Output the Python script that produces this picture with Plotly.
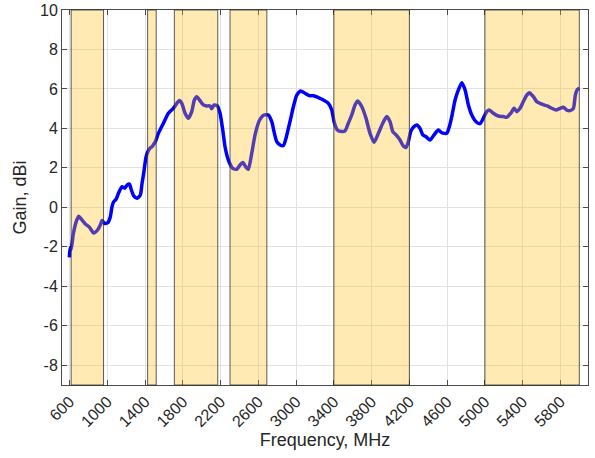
import plotly.graph_objects as go

freq_mhz = [598, 606, 616, 640, 669, 697, 725, 767, 810, 856, 891, 926, 944, 969, 1005, 1032, 1050, 1068, 1093, 1121,
            1156, 1185, 1209, 1234, 1255, 1280, 1315, 1350, 1368, 1386, 1410, 1432, 1453, 1474, 1509, 1541, 1594, 1647,
            1700, 1736, 1763, 1789, 1824, 1858, 1894, 1922, 1947, 1982, 2017, 2053, 2088, 2106, 2131, 2166, 2194, 2223,
            2247, 2282, 2329, 2371, 2406, 2435, 2470, 2494, 2530, 2565, 2611, 2660, 2706, 2742, 2766, 2795, 2830, 2865,
            2893, 2918, 2943, 2971, 3007, 3049, 3095, 3140, 3183, 3236, 3289, 3342, 3378, 3402, 3437, 3484, 3518, 3553,
            3589, 3624, 3653, 3696, 3741, 3783, 3826, 3871, 3918, 3960, 3995, 4024, 4059, 4101, 4136, 4165, 4189, 4214,
            4242, 4278, 4313, 4342, 4377, 4419, 4461, 4507, 4543, 4596, 4623, 4649, 4684, 4719, 4755, 4790, 4825, 4861,
            4906, 4949, 4991, 5020, 5047, 5089, 5142, 5195, 5231, 5274, 5309, 5337, 5372, 5407, 5443, 5471, 5513, 5549,
            5584, 5626, 5661, 5708, 5754, 5796, 5831, 5867, 5902, 5937, 5958, 5980, 6001]
gain_dbi = [-2.53, -2.05, -2.15, -1.35, -0.75, -0.45, -0.6, -0.84, -1.0, -1.3, -1.18, -0.89, -0.67, -0.81, -0.77, -0.47,
            0.04, 0.29, 0.41, 0.75, 1.05, 0.97, 1.13, 1.18, 0.88, 0.58, 0.46, 0.63, 1.22, 1.75, 2.55, 2.85, 3.0, 3.08,
            3.33, 3.75, 4.26, 4.77, 5.02, 5.27, 5.41, 5.27, 4.77, 4.51, 4.85, 5.44, 5.61, 5.41, 5.19, 5.14, 5.14, 5.0,
            5.19, 5.14, 4.77, 3.92, 3.07, 2.40, 1.98, 1.93, 2.15, 2.27, 2.03, 1.93, 2.74, 3.67, 4.40, 4.68, 4.68, 4.34,
            3.84, 3.33, 3.16, 3.13, 3.50, 4.0, 4.51, 5.10, 5.69, 5.90, 5.78, 5.66, 5.66, 5.56, 5.44, 5.27, 4.93, 4.34,
            3.92, 3.84, 3.87, 4.26, 4.68, 5.19, 5.39, 5.10, 4.51, 3.75, 3.30, 3.75, 4.26, 4.60, 4.34, 3.84, 3.67, 3.41,
            3.11, 3.04, 3.33, 3.84, 4.06, 4.17, 4.0, 3.67, 3.58, 3.41, 3.67, 3.92, 3.78, 3.75, 4.09, 4.60, 5.44, 5.95,
            6.32, 5.95, 5.19, 4.68, 4.34, 4.24, 4.60, 4.85, 4.93, 4.77, 4.63, 4.60, 4.56, 4.77, 5.02, 4.85, 5.02, 5.36,
            5.69, 5.81, 5.61, 5.36, 5.27, 5.19, 5.14, 5.02, 4.93, 5.02, 5.07, 4.93, 4.90, 5.02, 5.69, 5.98, 6.03]

band_start = [617, 1427, 1710, 2300, 3400, 5000]
band_end = [960, 1518, 2170, 2690, 4200, 6000]

x_tickvals = [600, 1000, 1400, 1800, 2200, 2600, 3000, 3400, 3800, 4200, 4600, 5000, 5400, 5800]
x_ticktext = ["600", "1000", "1400", "1800", "2200", "2600", "3000", "3400", "3800", "4200", "4600", "5000", "5400", "5800"]
y_tickvals = [-8, -6, -4, -2, 0, 2, 4, 6, 8, 10]
y_ticktext = ["-8", "-6", "-4", "-2", "0", "2", "4", "6", "8", "10"]

FONT = "Liberation Sans, Arial, Helvetica, sans-serif"
TXT = "#262626"
AX = "#4a4a4a"

fig = go.Figure()
fig.add_trace(go.Scatter(x=freq_mhz, y=gain_dbi, mode="lines",
                         line=dict(color="#0000ff", width=3.5, shape="spline", smoothing=0.6),
                         showlegend=False, hoverinfo="skip"))

for s, e in zip(band_start, band_end):
    fig.add_shape(type="rect", xref="x", yref="paper", x0=s, x1=e, y0=0, y1=1,
                  fillcolor="rgba(255,190,20,0.32)", line=dict(color="rgba(40,40,40,0.75)", width=1),
                  layer="above")

axis_common = dict(showline=True, linecolor=AX, linewidth=1, mirror="ticks", ticks="inside",
                   ticklen=5, tickcolor=AX, showgrid=True, gridcolor="#e2e2e2", gridwidth=1,
                   zeroline=False, tickfont=dict(family=FONT, size=16, color=TXT))

fig.update_xaxes(range=[520, 6092], tickvals=x_tickvals, ticktext=x_ticktext, tickangle=-45,
                 title=dict(text="Frequency, MHz", font=dict(family=FONT, size=18, color=TXT), standoff=4),
                 **axis_common)
fig.update_yaxes(range=[-9, 10], tickvals=y_tickvals, ticktext=y_ticktext, **axis_common)

fig.add_annotation(text="Gain, dBi", xref="paper", yref="paper", x=-0.08, y=0.5, xanchor="center",
                   yanchor="middle", textangle=-90, showarrow=False,
                   font=dict(family=FONT, size=18, color=TXT))

fig.update_layout(width=595, height=458, margin=dict(l=62, r=7, t=10, b=73, autoexpand=False),
                  plot_bgcolor="white", paper_bgcolor="white")

# remove the page's default body margin so the figure sits at the window origin
fig.write_html("out.html", config={"displayModeBar": False},
               post_script="document.body.style.margin='0';document.body.style.overflow='hidden';")
